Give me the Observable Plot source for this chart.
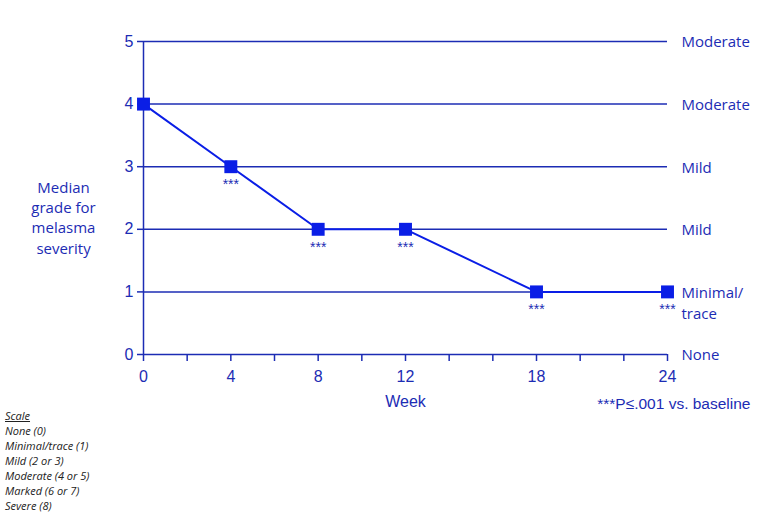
<!DOCTYPE html>
<html>
<head>
<meta charset="utf-8">
<script src="https://cdn.jsdelivr.net/npm/d3@7"></script>
<script src="https://cdn.jsdelivr.net/npm/@observablehq/plot@0.6"></script>
<style>
  html, body { margin: 0; padding: 0; background: #fff; }
  #wrap { position: relative; width: 773px; height: 516px; }
  #scale { position: absolute; left: 5px; top: 408px; font-family: "Open Sans", "Lato", sans-serif; font-style: italic; font-size: 11px; line-height: 15px; color: #222; }
  #scale .t { text-decoration: underline; }
</style>
</head>
<body>
<div id="wrap"><div id="chart"></div><div id="scale"></div></div>
<script>
const weeks = [0, 4, 8, 12, 18, 24];
const grades = [4, 3, 2, 2, 1, 1];
const significant = [false, true, true, true, true, true];
const gradeTicks = [0, 1, 2, 3, 4, 5];
const gradeLabels = ["None", "Minimal/\ntrace", "Mild", "Mild", "Moderate", "Moderate"];
const weekLabels = [0, 4, 8, 12, 18, 24];
const weekMinorTicks = [0, 2, 4, 6, 8, 10, 12, 14, 16, 18, 20, 22, 24];
const yLabel = "Median\ngrade for\nmelasma\nseverity";
const xLabel = "Week";
const note = "***P\u2264.001 vs. baseline";
const scaleTitle = "Scale";
const scaleLines = ["None (0)", "Minimal/trace (1)", "Mild (2 or 3)", "Moderate (4 or 5)", "Marked (6 or 7)", "Severe (8)"];

const blue = "#1c2cb4";
const markerBlue = "#0a1ee6";
const font = "'Liberation Sans', Arial, sans-serif";
const labelFont = "'Open Sans', 'Noto Sans', sans-serif";

const data = weeks.map((w, i) => ({week: w, grade: grades[i], sig: significant[i]}));

const chart = Plot.plot({
  width: 773,
  height: 516,
  marginLeft: 143,
  marginRight: 106,
  marginTop: 41,
  marginBottom: 162,
  x: {domain: [0, 24]},
  y: {domain: [0, 5]},
  style: {fontFamily: font, fontSize: "15px", color: blue, background: "white"},
  marks: [
    Plot.ruleY(gradeTicks, {y: d => d, stroke: blue, strokeWidth: 1.5}),
    Plot.ruleX([0], {x: d => d, stroke: blue, strokeWidth: 1.5}),
    Plot.axisY({ticks: gradeTicks, tickFormat: d3.format("d"), tickSize: 6, tickPadding: 4, label: null, stroke: blue, strokeWidth: 1.5, fill: blue, fontSize: 16}),
    Plot.axisX({ticks: weekMinorTicks, tickSize: 7, tickFormat: () => "", label: null, stroke: blue, strokeWidth: 1.5}),
    Plot.axisX({ticks: weekLabels, tickSize: 0, tickPadding: 16, fill: blue, fontSize: 16,
      label: xLabel, labelAnchor: "center", labelOffset: 52, labelArrow: "none"}),
    Plot.text([yLabel], {text: d => d, frameAnchor: "left", dx: -80, dy: 19, textAnchor: "middle", lineHeight: 1.34, fill: blue, fontSize: 15, fontFamily: labelFont}),
    Plot.line(data, {x: "week", y: "grade", stroke: markerBlue, strokeWidth: 2}),
    Plot.dot(data, {x: "week", y: "grade", symbol: "square", r: 7.3, fill: markerBlue, stroke: "none"}),
    Plot.text(data.filter(d => d.sig), {x: "week", y: "grade", text: () => "***", dy: 18, fontSize: 14, fill: blue}),
    Plot.text(gradeTicks, {y: d => d, text: (d, i) => gradeLabels[i], frameAnchor: "right", dx: 14, textAnchor: "start", lineAnchor: "top", dy: -9, lineHeight: 1.4, fill: blue, fontSize: 15, fontFamily: labelFont}),
    Plot.text([note], {text: d => d, frameAnchor: "bottom-right", dx: 83, dy: 54, textAnchor: "end", fill: blue, fontSize: 15.5})
  ]
});
document.getElementById("chart").appendChild(chart);

const sc = document.getElementById("scale");
const t = document.createElement("div"); t.className = "t"; t.textContent = scaleTitle; sc.appendChild(t);
scaleLines.forEach(s => { const d = document.createElement("div"); d.textContent = s; sc.appendChild(d); });
</script>
</body>
</html>
